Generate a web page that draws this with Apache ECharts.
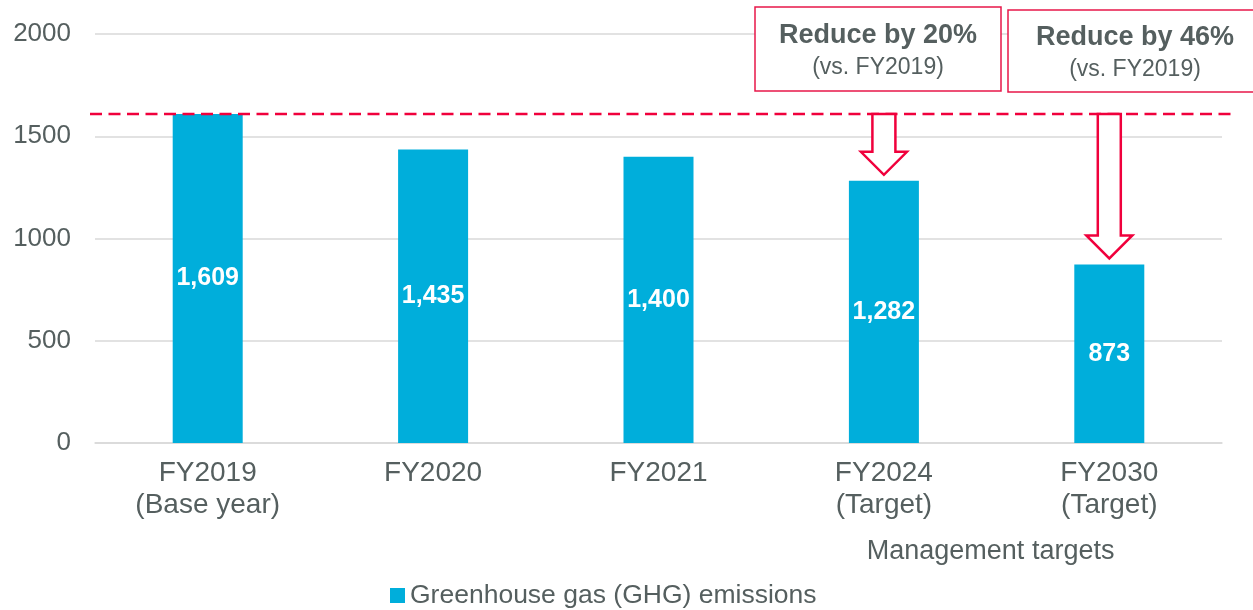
<!DOCTYPE html>
<html><head><meta charset="utf-8">
<script src="https://cdn.jsdelivr.net/npm/echarts@6/dist/echarts.min.js"></script>
<style>html,body{margin:0;padding:0;background:#fff}#c{width:1253px;height:610px}</style>
</head><body><div id="c"></div>
<script>
// ---- data ----
const categories = ['FY2019\n(Base year)', 'FY2020', 'FY2021', 'FY2024\n(Target)', 'FY2030\n(Target)'];
const emissions = [1609, 1435, 1400, 1282, 873];
const yTickValues = [0, 500, 1000, 1500, 2000];
const seriesName = 'Greenhouse gas (GHG) emissions';
const baseYearValue = 1609;
const targetIndices = [3, 4];
const targetTitles = ['Reduce by 20%', 'Reduce by 46%'];
const targetSubtitles = ['(vs. FY2019)', '(vs. FY2019)'];
const groupLabel = 'Management targets';

// ---- style / layout ----
const FONT = 'Arial, "Liberation Sans", sans-serif';
const TEXT = '#555f5f';
const RED = '#e8174a';
const DASH_RED = '#f0003c';
const BAR = '#00aedb';
const GRID_C = '#d9d9d9';
const layout = {
  grid: {left: 95, right: 31, top: 34, bottom: 167},
  boxes: [{x: 755, y: 7, w: 246, h: 84, ty: 36, sy: 68},
          {x: 1008, y: 10, w: 254, h: 82, ty: 38, sy: 70}]
};

const chart = echarts.init(document.getElementById('c'));
chart.setOption({
  animation: false,
  grid: Object.assign({containLabel: false}, layout.grid),
  legend: {
    left: 390, top: 582, padding: 0, itemWidth: 15, itemHeight: 15, itemGap: 5,
    icon: 'rect',
    textStyle: {fontFamily: FONT, fontSize: 26.5, color: TEXT, lineHeight: 26},
    data: [seriesName]
  },
  xAxis: {
    type: 'category', data: categories,
    axisTick: {show: false},
    axisLine: {lineStyle: {color: GRID_C, width: 1.5}},
    axisLabel: {fontFamily: FONT, fontSize: 28, color: TEXT, lineHeight: 32, margin: 14, interval: 0}
  },
  yAxis: {
    type: 'value',
    min: yTickValues[0], max: yTickValues[yTickValues.length - 1],
    interval: yTickValues[1] - yTickValues[0],
    axisLine: {show: false}, axisTick: {show: false},
    splitLine: {lineStyle: {color: GRID_C, width: 1.5}},
    axisLabel: {fontFamily: FONT, fontSize: 26, color: TEXT, margin: 24, formatter: v => String(v)}
  },
  series: [{
    name: seriesName, type: 'bar', data: emissions, barWidth: 70,
    itemStyle: {color: BAR},
    label: {
      show: true, position: 'inside', color: '#fff', fontFamily: FONT,
      fontWeight: 'bold', fontSize: 25,
      formatter: p => p.value.toLocaleString('en-US')
    }
  }]
});

const gl = layout.grid.left, gr = 1253 - layout.grid.right;
const baseY = chart.convertToPixel({yAxisIndex: 0}, baseYearValue);
const g = [];
g.push({type: 'line', z: 10, shape: {x1: gl - 5, y1: baseY, x2: gr + 13, y2: baseY},
  style: {stroke: DASH_RED, lineWidth: 2.6, lineDash: [12, 6.5]}});

targetIndices.forEach((idx, k) => {
  const cx = chart.convertToPixel({xAxisIndex: 0}, idx);
  const barTop = chart.convertToPixel({yAxisIndex: 0}, emissions[idx]);
  const tip = barTop - 6, head = tip - 23, sw = 11.5, hw = 23;
  g.push({type: 'polygon', z: 11, shape: {points: [
    [cx - sw, baseY], [cx + sw, baseY], [cx + sw, head], [cx + hw, head],
    [cx, tip], [cx - hw, head], [cx - sw, head]]},
    style: {fill: '#fff', stroke: DASH_RED, lineWidth: 2.5}});
  const b = layout.boxes[k];
  g.push({type: 'rect', z: 12, shape: {x: b.x, y: b.y, width: b.w, height: b.h},
    style: {fill: '#fff', stroke: RED, lineWidth: 1.5}});
  g.push({type: 'text', z: 13, x: b.x + b.w / 2, y: b.ty,
    style: {text: targetTitles[k], font: 'bold 27px ' + FONT, fill: TEXT, align: 'center', verticalAlign: 'middle'}});
  g.push({type: 'text', z: 13, x: b.x + b.w / 2, y: b.sy,
    style: {text: targetSubtitles[k], font: '23px ' + FONT, fill: TEXT, align: 'center', verticalAlign: 'middle'}});
});

const mx = (chart.convertToPixel({xAxisIndex: 0}, targetIndices[0]) + chart.convertToPixel({xAxisIndex: 0}, targetIndices[1])) / 2 - 6;
g.push({type: 'text', z: 13, x: mx, y: 552,
  style: {text: groupLabel, font: '27px ' + FONT, fill: TEXT, align: 'center', verticalAlign: 'middle'}});

chart.setOption({graphic: g});
</script>
</body></html>
